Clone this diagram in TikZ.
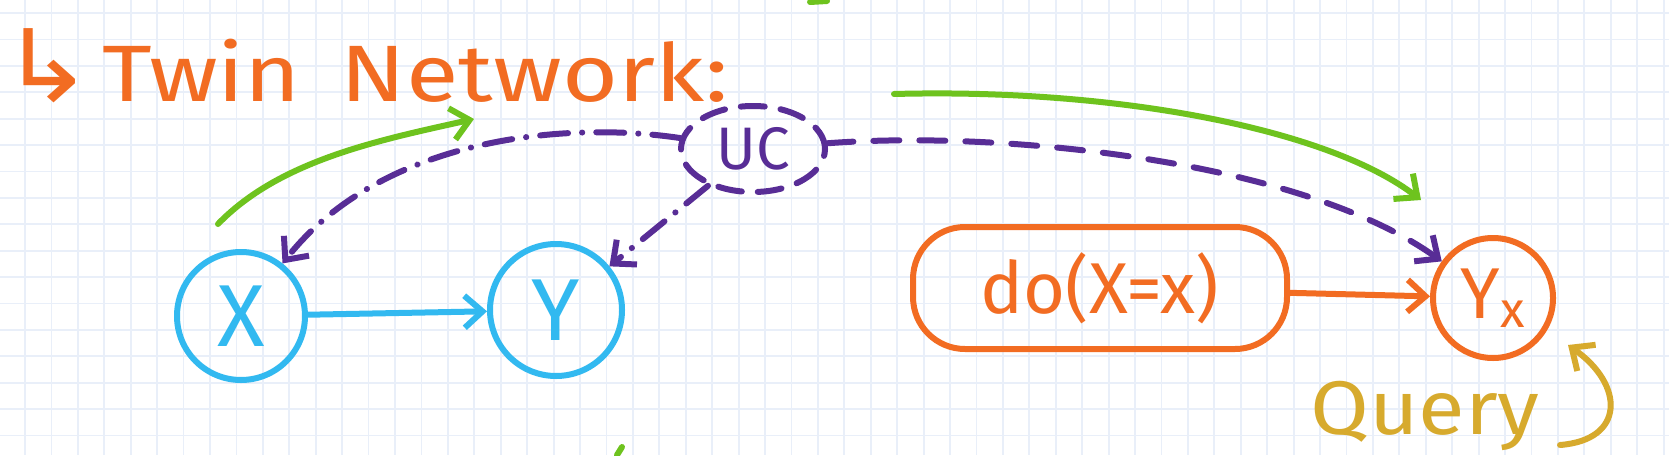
\documentclass[tikz,border=0pt]{standalone}
\usepackage{fontspec}
\setmainfont{Fira Sans}
\newfontfamily\symfont{DejaVu Sans}
\usetikzlibrary{arrows.meta,shapes.geometric}
\definecolor{orangec}{RGB}{242,108,34}
\definecolor{cyanc}{RGB}{50,185,240}
\definecolor{purp}{RGB}{88,45,150}
\definecolor{greenc}{RGB}{110,195,30}
\definecolor{mustard}{RGB}{215,170,45}
\definecolor{gridc}{RGB}{233,239,249}
\tikzset{
  pen/.style={line width=3pt, line cap=round, line join=round},
  arr/.style={-{Straight Barb[length=9pt,width=16pt,line width=3pt]}},
  circ/.style={circle, draw, pen, inner sep=0pt},
  dashdot/.style={dash pattern=on 14pt off 7pt on 0.1pt off 7pt},
  dashlong/.style={dash pattern=on 13pt off 10pt},
  hand/.style={font=\fontsize{36}{40}\selectfont}
}
\begin{document}
\begin{tikzpicture}[x=0.5pt,y=-0.5pt]
\useasboundingbox (0,0) rectangle (1669,455);
\fill[white] (0,0) rectangle (1669,455);
% grid paper
\foreach \i in {0,...,63} {\draw[gridc, line width=0.9pt] ({25+26.43*\i},0) -- ({25+26.43*\i},455);}
\foreach \j in {0,...,17} {\draw[gridc, line width=0.9pt] (0,{13+26.4*\j}) -- (1669,{13+26.4*\j});}

% title
\node[anchor=base west, text=orangec, font=\fontsize{40}{44}\selectfont, inner sep=0pt] (title) at (0,101) {\scalebox{1.4}[1.25]{\symfont ↳}\hspace{4pt}\scalebox{1.2}[1]{Twin\hspace{6pt} Network:}};

% nodes
\node[circ, cyanc, minimum size=64pt, font=\fontsize{44}{48}\selectfont, text=cyanc] (X) at (241,316) {X};
\node[circ, cyanc, minimum size=66pt, font=\fontsize{44}{48}\selectfont, text=cyanc] (Y) at (556,310) {Y};
\node[ellipse, draw=purp, pen, dashed, dash pattern=on 12pt off 8pt, minimum width=72pt, minimum height=43pt, inner sep=0pt, text=purp, font=\fontsize{30}{34}\selectfont] (UC) at (753,149) {UC};
\node[draw=orangec, pen, rounded corners=26pt, minimum width=187pt, minimum height=61pt, text=orangec, hand] (do) at (1100,288) {do(X=x)};
\node[circ, orangec, minimum size=60pt, text=orangec, font=\fontsize{36}{40}\selectfont] (Yx) at (1493,298) {Y\textsubscript{x}};
\node[anchor=base, text=mustard, font=\fontsize{38}{42}\selectfont, inner sep=0pt] (query) at (1425,434) {\scalebox{1.12}[1]{Query}};

% connectors
\draw[pen, cyanc, arr] (X) -- (Y);
\draw[pen, orangec, arr] (do) -- (Yx);
\draw[pen, purp, dashdot, arr] (UC) .. controls (560,120) and (380,140) .. (X);
\draw[pen, purp, dashdot, arr] (UC) -- (Y);
\draw[pen, purp, dashlong, arr] (UC) .. controls (1000,130) and (1300,160) .. (Yx);

% green arrows
\coordinate (g1) at (218,224);
\coordinate (g2) at (474,119);
\draw[pen, greenc, arr] (g1) .. controls (280,160) and (380,140) .. (g2);
\coordinate (g3) at (894,94);
\coordinate (g4) at (1421,200);
\draw[pen, greenc, arr] (g3) .. controls (1120,88) and (1330,130) .. (g4);
\coordinate (g5) at (810,2);
\coordinate (g6) at (827,1);
\draw[pen, greenc] (g5) -- (g6);
\coordinate (g7) at (617,455);
\coordinate (g8) at (622,447);
\draw[pen, greenc] (g7) -- (g8);

% query arrow
\coordinate (q1) at (1560,445);
\coordinate (q2) at (1568,345);
\draw[pen, mustard, arr] (q1) .. controls (1625,440) and (1625,385) .. (q2);
\end{tikzpicture}
\end{document}
